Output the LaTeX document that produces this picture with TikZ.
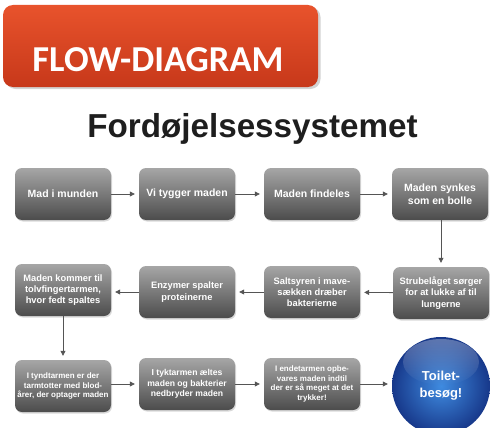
\documentclass[tikz,border=0pt]{standalone}
\usepackage{fontspec}
\setmainfont{Liberation Sans}
\newfontfamily\carlito{Carlito}
\usetikzlibrary{shadows,arrows.meta,fadings}
\definecolor{boxtop}{HTML}{A6A6A6}
\definecolor{boxbot}{HTML}{4C4C4C}
\definecolor{bantop}{HTML}{E8532C}
\definecolor{banbot}{HTML}{C7381A}
\definecolor{ballin}{HTML}{3F8BE0}
\definecolor{ballout}{HTML}{17388A}
\definecolor{arrowc}{HTML}{555555}
\definecolor{titlec}{HTML}{1E1E1E}
\tikzfading[name=glossfade, top color=transparent!70, bottom color=transparent!100]
\begin{document}
\begin{tikzpicture}[x=1pt,y=-1pt,
  stepbox/.style={draw=none, rounded corners=7pt, minimum width=96pt, minimum height=52pt,
    top color=boxtop, bottom color=boxbot, text=white, align=center, inner sep=1pt,
    font=\bfseries,
    drop shadow={opacity=0.3, shadow xshift=1pt, shadow yshift=-1.5pt}},
  rowa/.style={stepbox, font=\fontsize{10.5}{13}\bfseries\selectfont},
  rowb/.style={stepbox, font=\fontsize{9.3}{11.3}\bfseries\selectfont},
  rowc/.style={stepbox, font=\fontsize{8}{9.6}\bfseries\selectfont},
  flow/.style={draw=arrowc, line width=0.8pt, -{Triangle[length=5pt,width=5pt]}, shorten >=4pt}]
\useasboundingbox (0,0) rectangle (490,428);
% banner
\path[rounded corners=10pt, top color=bantop, bottom color=banbot,
  drop shadow={opacity=0.35, shadow xshift=2.5pt, shadow yshift=-2pt}]
  (3,5) rectangle (318,87);
\node[anchor=base, text=white, font=\fontsize{36.5}{40}\carlito\bfseries\selectfont] (banner) at (158,72) {FLOW-DIAGRAM};
% title
\node[anchor=base, text=titlec, font=\fontsize{33.2}{36}\bfseries\selectfont] (title) at (252.5,137) {Fordøjelsessystemet};
% row 1
\node[rowa] (a1) at (63,194) {Mad i munden};
\node[rowa] (a2) at (187,194) {Vi tygger maden};
\node[rowa] (a3) at (312,194) {Maden findeles};
\node[rowa] (a4) at (440,194) {Maden synkes\\som en bolle};
% row 2
\node[rowb] (b4) at (441,293) {Strubelåget  sørger\\for at lukke af til\\lungerne};
\node[rowb] (b3) at (312,292) {Saltsyren i mave-\\sækken dræber\\bakterierne};
\node[rowb] (b2) at (187,292) {Enzymer spalter\\proteinerne};
\node[rowb] (b1) at (63,290) {Maden kommer til\\tolvfingertarmen,\\hvor fedt spaltes};
% row 3
\node[rowc] (c1) at (63,386) {I tyndtarmen er der\\tarmtotter med blod-\\årer, der optager maden};
\node[stepbox, font=\fontsize{8.6}{10.5}\bfseries\selectfont] (c2) at (187,384) {I tyktarmen æltes\\maden og bakterier\\nedbryder maden};
\node[rowc] (c3) at (312,384) {I endetarmen opbe-\\vares maden indtil\\der er så meget at det\\trykker!};
% ball
\path[shading=radial, inner color=ballin, outer color=ballout] (441,386) circle (49);
\fill[white, path fading=glossfade] (441,362) ellipse (38 and 23);
\node[circle, minimum size=98pt, text=white, align=center, font=\fontsize{13}{17}\bfseries\selectfont] (d) at (441,386) {Toilet-\\besøg!};
% arrows
\draw[flow] (a1) -- (a2);
\draw[flow] (a2) -- (a3);
\draw[flow] (a3) -- (a4);
\draw[flow] (a4.south -| b4.north) -- (b4.north);
\draw[flow] (b4) -- (b3);
\draw[flow] (b3) -- (b2);
\draw[flow] (b2.west) -- (b2.west -| b1.east);
\draw[flow] (b1) -- (c1);
\draw[flow] (c1.east |- c2.west) -- (c2.west);
\draw[flow] (c2) -- (c3);
\draw[flow] (c3.east) -- (c3.east -| d.west);
\end{tikzpicture}
\end{document}
